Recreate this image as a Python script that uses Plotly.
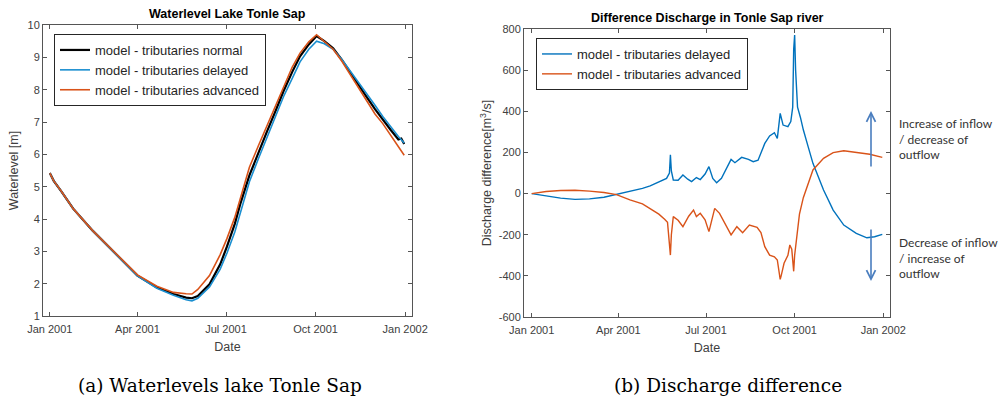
import plotly.graph_objects as go

# ---------------- data ----------------
# Lake Tonle Sap water level [m], three model runs
wl_dates = [
    "2001-01-01", "2001-01-05", "2001-01-13", "2001-01-25", "2001-02-14", "2001-03-10",
    "2001-04-01", "2001-04-21", "2001-05-08", "2001-05-21", "2001-05-27", "2001-06-02",
    "2001-06-14", "2001-06-25", "2001-07-02", "2001-07-10", "2001-07-16", "2001-07-25",
    "2001-08-03", "2001-08-12", "2001-08-21", "2001-08-29", "2001-09-07", "2001-09-15",
    "2001-09-24", "2001-10-02", "2001-10-10", "2001-10-19", "2001-10-28", "2001-11-05",
    "2001-11-14", "2001-11-22", "2001-12-01", "2001-12-09", "2001-12-17", "2001-12-25",
    "2001-12-28", "2001-12-31",
]
wl_normal = [
    5.42, 5.18, 4.85, 4.32, 3.64, 2.92, 2.25, 1.88, 1.68, 1.57, 1.55, 1.62,
    1.98, 2.60, 3.15, 3.85, 4.50, 5.35, 6.05, 6.70, 7.35, 7.95, 8.55, 9.03,
    9.40, 9.66, 9.50, 9.28, 8.92, 8.55, 8.14, 7.79, 7.40, 7.06, 6.76, 6.46,
    6.49, 6.32,
]
wl_delayed = [
    5.42, 5.18, 4.85, 4.32, 3.64, 2.92, 2.24, 1.86, 1.64, 1.50, 1.47, 1.55,
    1.90, 2.45, 2.95, 3.60, 4.25, 5.15, 5.85, 6.50, 7.15, 7.78, 8.35, 8.86,
    9.25, 9.50, 9.42, 9.25, 8.93, 8.60, 8.25, 7.90, 7.52, 7.17, 6.85, 6.55,
    6.45, 6.35,
]
wl_advanced = [
    5.42, 5.18, 4.85, 4.32, 3.64, 2.93, 2.27, 1.92, 1.73, 1.69, 1.68, 1.82,
    2.25, 2.90, 3.40, 4.05, 4.70, 5.60, 6.25, 6.88, 7.55, 8.12, 8.70, 9.13,
    9.48, 9.70, 9.50, 9.25, 8.88, 8.50, 8.10, 7.68, 7.25, 6.95, 6.60, 6.25,
    6.12, 5.97,
]

# Discharge difference in the Tonle Sap river [m3/s]
q_delayed_dates = [
    "2001-01-01", "2001-01-16", "2001-01-31", "2001-02-15", "2001-03-02", "2001-03-17",
    "2001-03-30", "2001-04-13", "2001-04-26", "2001-05-04", "2001-05-13", "2001-05-21",
    "2001-05-24", "2001-05-25", "2001-05-26", "2001-05-28", "2001-06-02", "2001-06-07",
    "2001-06-12", "2001-06-16", "2001-06-21", "2001-06-25", "2001-06-30", "2001-07-04",
    "2001-07-08", "2001-07-12", "2001-07-17", "2001-07-22", "2001-07-27", "2001-07-31",
    "2001-08-07", "2001-08-14", "2001-08-19", "2001-08-24", "2001-08-31", "2001-09-05",
    "2001-09-10", "2001-09-13", "2001-09-16", "2001-09-19", "2001-09-24", "2001-09-27",
    "2001-09-29", "2001-09-30", "2001-10-01", "2001-10-02", "2001-10-04", "2001-10-07",
    "2001-10-10", "2001-10-15", "2001-10-20", "2001-10-31", "2001-11-10", "2001-11-21",
    "2001-12-04", "2001-12-15", "2001-12-23", "2001-12-31",
]
q_delayed = [
    0, -12, -22, -28, -26, -18,
    -5, 12, 25, 37, 55, 74,
    100, 188, 110, 66, 65, 90,
    70, 58, 78, 68, 95, 131,
    74, 53, 74, 120, 166, 150,
    176, 166, 155, 162, 244, 280,
    296, 268, 390, 333, 325, 350,
    420, 700, 771, 600, 420, 370,
    310, 228, 147, 17, -80, -153,
    -193, -215, -210, -198,
]
q_advanced_dates = [
    "2001-01-01", "2001-01-16", "2001-01-31", "2001-02-15", "2001-03-02", "2001-03-17",
    "2001-03-30", "2001-04-13", "2001-04-26", "2001-05-04", "2001-05-13", "2001-05-19",
    "2001-05-22", "2001-05-25", "2001-05-26", "2001-05-28", "2001-06-02", "2001-06-07",
    "2001-06-13", "2001-06-18", "2001-06-21", "2001-06-25", "2001-06-30", "2001-07-04",
    "2001-07-10", "2001-07-15", "2001-07-22", "2001-07-27", "2001-08-02", "2001-08-08",
    "2001-08-15", "2001-08-23", "2001-08-27", "2001-08-31", "2001-09-05", "2001-09-10",
    "2001-09-13", "2001-09-16", "2001-09-17", "2001-09-20", "2001-09-24", "2001-09-26",
    "2001-09-28", "2001-09-30", "2001-10-01", "2001-10-03", "2001-10-06", "2001-10-10",
    "2001-10-16", "2001-10-20", "2001-10-31", "2001-11-10", "2001-11-21", "2001-12-04",
    "2001-12-18", "2001-12-31",
]
q_advanced = [
    0, 10, 15, 16, 12, 5,
    -5, -31, -50, -72, -100, -125,
    -140, -299, -200, -112, -130, -161,
    -110, -80, -112, -96, -128, -185,
    -72, -96, -153, -201, -161, -190,
    -153, -164, -190, -258, -299, -307,
    -323, -417, -400, -339, -300, -250,
    -270, -378, -300, -226, -100, -20,
    66, 115, 171, 199, 208, 199,
    191, 176,
]

wl_ticks = [1, 2, 3, 4, 5, 6, 7, 8, 9, 10]
q_ticks = [-600, -400, -200, 0, 200, 400, 600, 800]
q_tick_labels = [str(v) for v in q_ticks]

# ---------------- styling ----------------
W, H = 1001, 401
BLUE = "#0072BD"
ORANGE = "#D95319"
AXIS = "#555555"
TXT = "#404040"
SANS = "Liberation Sans, Arial, sans-serif"


def px(x):
    return x / W


def py(y):
    return 1 - y / H


fig = go.Figure()

fig.add_trace(go.Scatter(x=wl_dates, y=wl_normal, mode="lines", name="model - tributaries normal",
                         line=dict(color="black", width=2.2), xaxis="x", yaxis="y", legend="legend"))
fig.add_trace(go.Scatter(x=wl_dates, y=wl_delayed, mode="lines", name="model - tributaries delayed",
                         line=dict(color="#1b8fd0", width=1.6), xaxis="x", yaxis="y", legend="legend"))
fig.add_trace(go.Scatter(x=wl_dates, y=wl_advanced, mode="lines", name="model - tributaries advanced",
                         line=dict(color=ORANGE, width=1.6), xaxis="x", yaxis="y", legend="legend"))

fig.add_trace(go.Scatter(x=q_delayed_dates, y=q_delayed, mode="lines", name="model - tributaries delayed",
                         line=dict(color=BLUE, width=1.4), xaxis="x2", yaxis="y2", legend="legend2"))
fig.add_trace(go.Scatter(x=q_advanced_dates, y=q_advanced, mode="lines", name="model - tributaries advanced",
                         line=dict(color=ORANGE, width=1.4), xaxis="x2", yaxis="y2", legend="legend2"))

axis_common = dict(
    showgrid=False, zeroline=False, showline=True, linecolor=AXIS, linewidth=1,
    mirror="ticks", ticks="inside", ticklen=4, tickcolor=AXIS, automargin=False,
    tickfont=dict(family=SANS, size=11, color=TXT),
)
date_axis = dict(
    axis_common, type="date", tick0="2001-01-01", dtick="M3", tickformat="%b %Y",
    ticklabelstandoff=3,
    title=dict(text="Date", font=dict(family=SANS, size=12.5, color=TXT), standoff=8),
)

legend_common = dict(
    xanchor="left", yanchor="top", bgcolor="white", bordercolor="#262626", borderwidth=1,
    font=dict(family=SANS, size=13, color="#262626"), itemwidth=30, tracegroupgap=0,
    itemclick=False, itemdoubleclick=False,
)

fig.update_layout(
    width=W, height=H, margin=dict(l=0, r=0, t=0, b=0, autoexpand=False),
    paper_bgcolor="white", plot_bgcolor="white", showlegend=True,
    xaxis=dict(date_axis, domain=[px(43), px(412)], range=["2000-12-25", "2002-01-08"], anchor="y"),
    yaxis=dict(axis_common, domain=[py(316), py(25)], range=[1, 10], tickvals=wl_ticks, anchor="x",
               title=dict(text="Waterlevel [m]", font=dict(family=SANS, size=12.5, color=TXT), standoff=6)),
    xaxis2=dict(date_axis, domain=[px(524), px(890)], range=["2000-12-24", "2002-01-08"], anchor="y2"),
    yaxis2=dict(axis_common, domain=[py(317), py(29)], range=[-600, 800], tickvals=q_ticks,
                ticktext=q_tick_labels, anchor="x2",
                title=dict(text="Discharge difference[m<sup>3</sup>/s]",
                           font=dict(family=SANS, size=12.5, color=TXT), standoff=4)),
    legend=dict(legend_common, x=px(54), y=py(34)),
    legend2=dict(legend_common, x=px(536), y=py(38)),
)

ann = []
# panel titles
ann.append(dict(text="<b>Waterlevel Lake Tonle Sap</b>", x=px(227), y=py(14), xref="paper", yref="paper",
                xanchor="center", yanchor="middle", showarrow=False,
                font=dict(family=SANS, size=12.5, color="black")))
ann.append(dict(text="<b>Difference Discharge in Tonle Sap river</b>", x=px(707), y=py(18), xref="paper",
                yref="paper", xanchor="center", yanchor="middle", showarrow=False,
                font=dict(family=SANS, size=12.5, color="black")))
# captions
ann.append(dict(text="(a) Waterlevels lake Tonle Sap", x=px(220), y=py(385), xref="paper", yref="paper",
                xanchor="center", yanchor="middle", showarrow=False,
                font=dict(family="DejaVu Serif, serif", size=18.5, color="black")))
ann.append(dict(text="(b) Discharge difference", x=px(728), y=py(385), xref="paper", yref="paper",
                xanchor="center", yanchor="middle", showarrow=False,
                font=dict(family="DejaVu Serif, serif", size=18.5, color="black")))
# direction arrows (offsets of the tail in pixels)
ARROW = "#4a7ebf"
ann.append(dict(x=px(871), y=py(111), ax=0, ay=57, xref="paper", yref="paper",
                axref="pixel", ayref="pixel", showarrow=True, arrowhead=5, arrowsize=1.1,
                arrowwidth=1.6, arrowcolor=ARROW, text=""))
ann.append(dict(x=px(871), y=py(281), ax=0, ay=-53, xref="paper", yref="paper",
                axref="pixel", ayref="pixel", showarrow=True, arrowhead=5, arrowsize=1.1,
                arrowwidth=1.6, arrowcolor=ARROW, text=""))
ann.append(dict(text="Increase of inflow<br>/ decrease of<br>outflow", x=px(897), y=py(139),
                xref="paper", yref="paper", xanchor="left", yanchor="middle", align="left",
                showarrow=False, font=dict(family="Lato, sans-serif", size=12, color="#333333")))
ann.append(dict(text="Decrease of inflow<br>/ increase of<br>outflow", x=px(897), y=py(258),
                xref="paper", yref="paper", xanchor="left", yanchor="middle", align="left",
                showarrow=False, font=dict(family="Lato, sans-serif", size=12, color="#333333")))
fig.update_layout(annotations=ann)

fig.write_html("out.html")
